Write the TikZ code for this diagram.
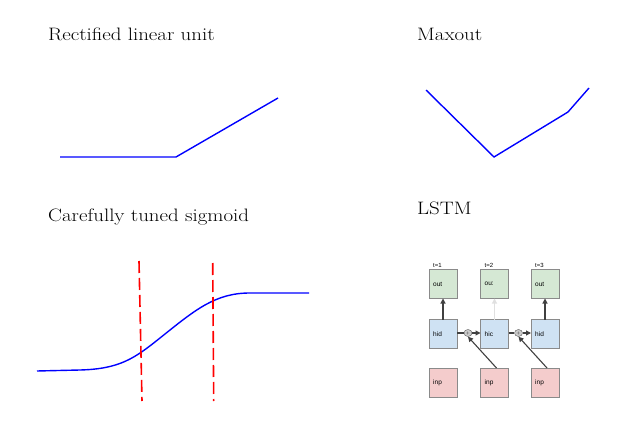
\documentclass[tikz,border=0pt]{standalone}
\usepackage{fontspec}
\newfontfamily\arialfont{Liberation Sans}
\usetikzlibrary{arrows.meta,shapes.geometric}
\definecolor{outfill}{HTML}{D5E8D4}
\definecolor{hidfill}{HTML}{CFE2F3}
\definecolor{inpfill}{HTML}{F4CCCC}
\definecolor{boxline}{HTML}{8A8A8A}
\newcommand{\wide}[1]{\scalebox{1.16}[1]{#1}}
\tikzset{
  title/.style={anchor=base west, inner sep=0pt, font=\fontsize{18}{22}\selectfont},
  curve/.style={draw=blue, line width=1.4pt},
  redline/.style={draw=red, line width=1.6pt, dash pattern=on 12pt off 5pt},
  cell/.style={draw=boxline, line width=0.6pt, minimum width=28pt, minimum height=29pt, inner sep=0pt, outer sep=0pt},
  celltext/.style={anchor=west, inner sep=0pt, font=\arialfont\fontsize{6.5}{7}\selectfont},
  tlabel/.style={anchor=base west, inner sep=0pt, font=\arialfont\fontsize{6}{7}\selectfont},
  gate/.style={draw=gray!70!black, fill=gray!40, ellipse, minimum width=8pt, minimum height=7pt, inner sep=0pt},
  darrow/.style={draw=black!75, line width=1.1pt, -{Triangle[length=5pt,width=5pt]}},
  larrow/.style={draw=black!12, line width=1.1pt, -{Triangle[length=5pt,width=5pt]}},
  plainline/.style={draw=black!75, line width=1.1pt}
}
\begin{document}
\begin{tikzpicture}[x=1pt,y=-1pt]
\useasboundingbox (0,0) rectangle (632,425);
% titles
\node[title] (t1) at (48,41) {\wide{Rectified linear unit}};
\node[title] (t2) at (417,41) {\wide{Maxout}};
\node[title] (t3) at (48,222) {\wide{Carefully tuned sigmoid}};
\node[title] (t4) at (417,214) {\wide{LSTM}};
% ReLU
\draw[curve] (60,157) -- (176,157) -- (278,98);
% Maxout
\draw[curve] (426,90) -- (494,157) -- (568,112) -- (589,88);
% sigmoid
\draw[curve] (37,371) -- (80,370) .. controls (120,369) and (135,358) .. (160,338)
  .. controls (195,310) and (215,293) .. (250,293) -- (309,293);
\draw[redline] (139,261) -- (142,401);
\draw[redline] (212.7,263) -- (213.7,401);
% LSTM
\foreach \i/\x in {1/443, 2/494.5, 3/545}{
  \node[cell, fill=outfill] (out\i) at (\x,284) {};
  \node[cell, fill=hidfill] (hid\i) at (\x,334) {};
  \node[cell, fill=inpfill] (inp\i) at (\x,382.5) {};
  \node[tlabel] (tl\i) at ([xshift=4pt,yshift=2pt]out\i.north west) {t=\i};
}
\node[celltext] at ([xshift=4pt]out1.west) {out};
\node[celltext] at ([xshift=4pt]out2.west) {ou:};
\node[celltext] at ([xshift=4pt]out3.west) {out};
\node[celltext] at ([xshift=4pt]hid1.west) {hid};
\node[celltext] at ([xshift=4pt]hid2.west) {hic};
\node[celltext] at ([xshift=4pt]hid3.west) {hid};
\foreach \i in {1,2,3}{
  \node[celltext] at ([xshift=4pt]inp\i.west) {inp};
}
\draw[darrow] (hid1.north) -- (out1.south);
\draw[larrow] (hid2.north) -- (out2.south);
\draw[darrow] (hid3.north) -- (out3.south);
\node[gate] (g1) at (468,333) {};
\node[gate] (g2) at (518.5,333) {};
\node[font=\fontsize{4}{4}\selectfont, inner sep=0pt] at (g1) {+};
\node[font=\fontsize{4}{4}\selectfont, inner sep=0pt] at (g2) {+};
\draw[plainline] (hid1.east |- g1) -- (g1.west);
\draw[darrow] (g1.east) -- (hid2.west |- g1);
\draw[plainline] (hid2.east |- g2) -- (g2.west);
\draw[darrow] (g2.east) -- (hid3.west |- g2);
\draw[darrow] ([xshift=2pt]inp2.north) -- (g1.south);
\draw[darrow] ([xshift=2pt]inp3.north) -- (g2.south);
\end{tikzpicture}
\end{document}
